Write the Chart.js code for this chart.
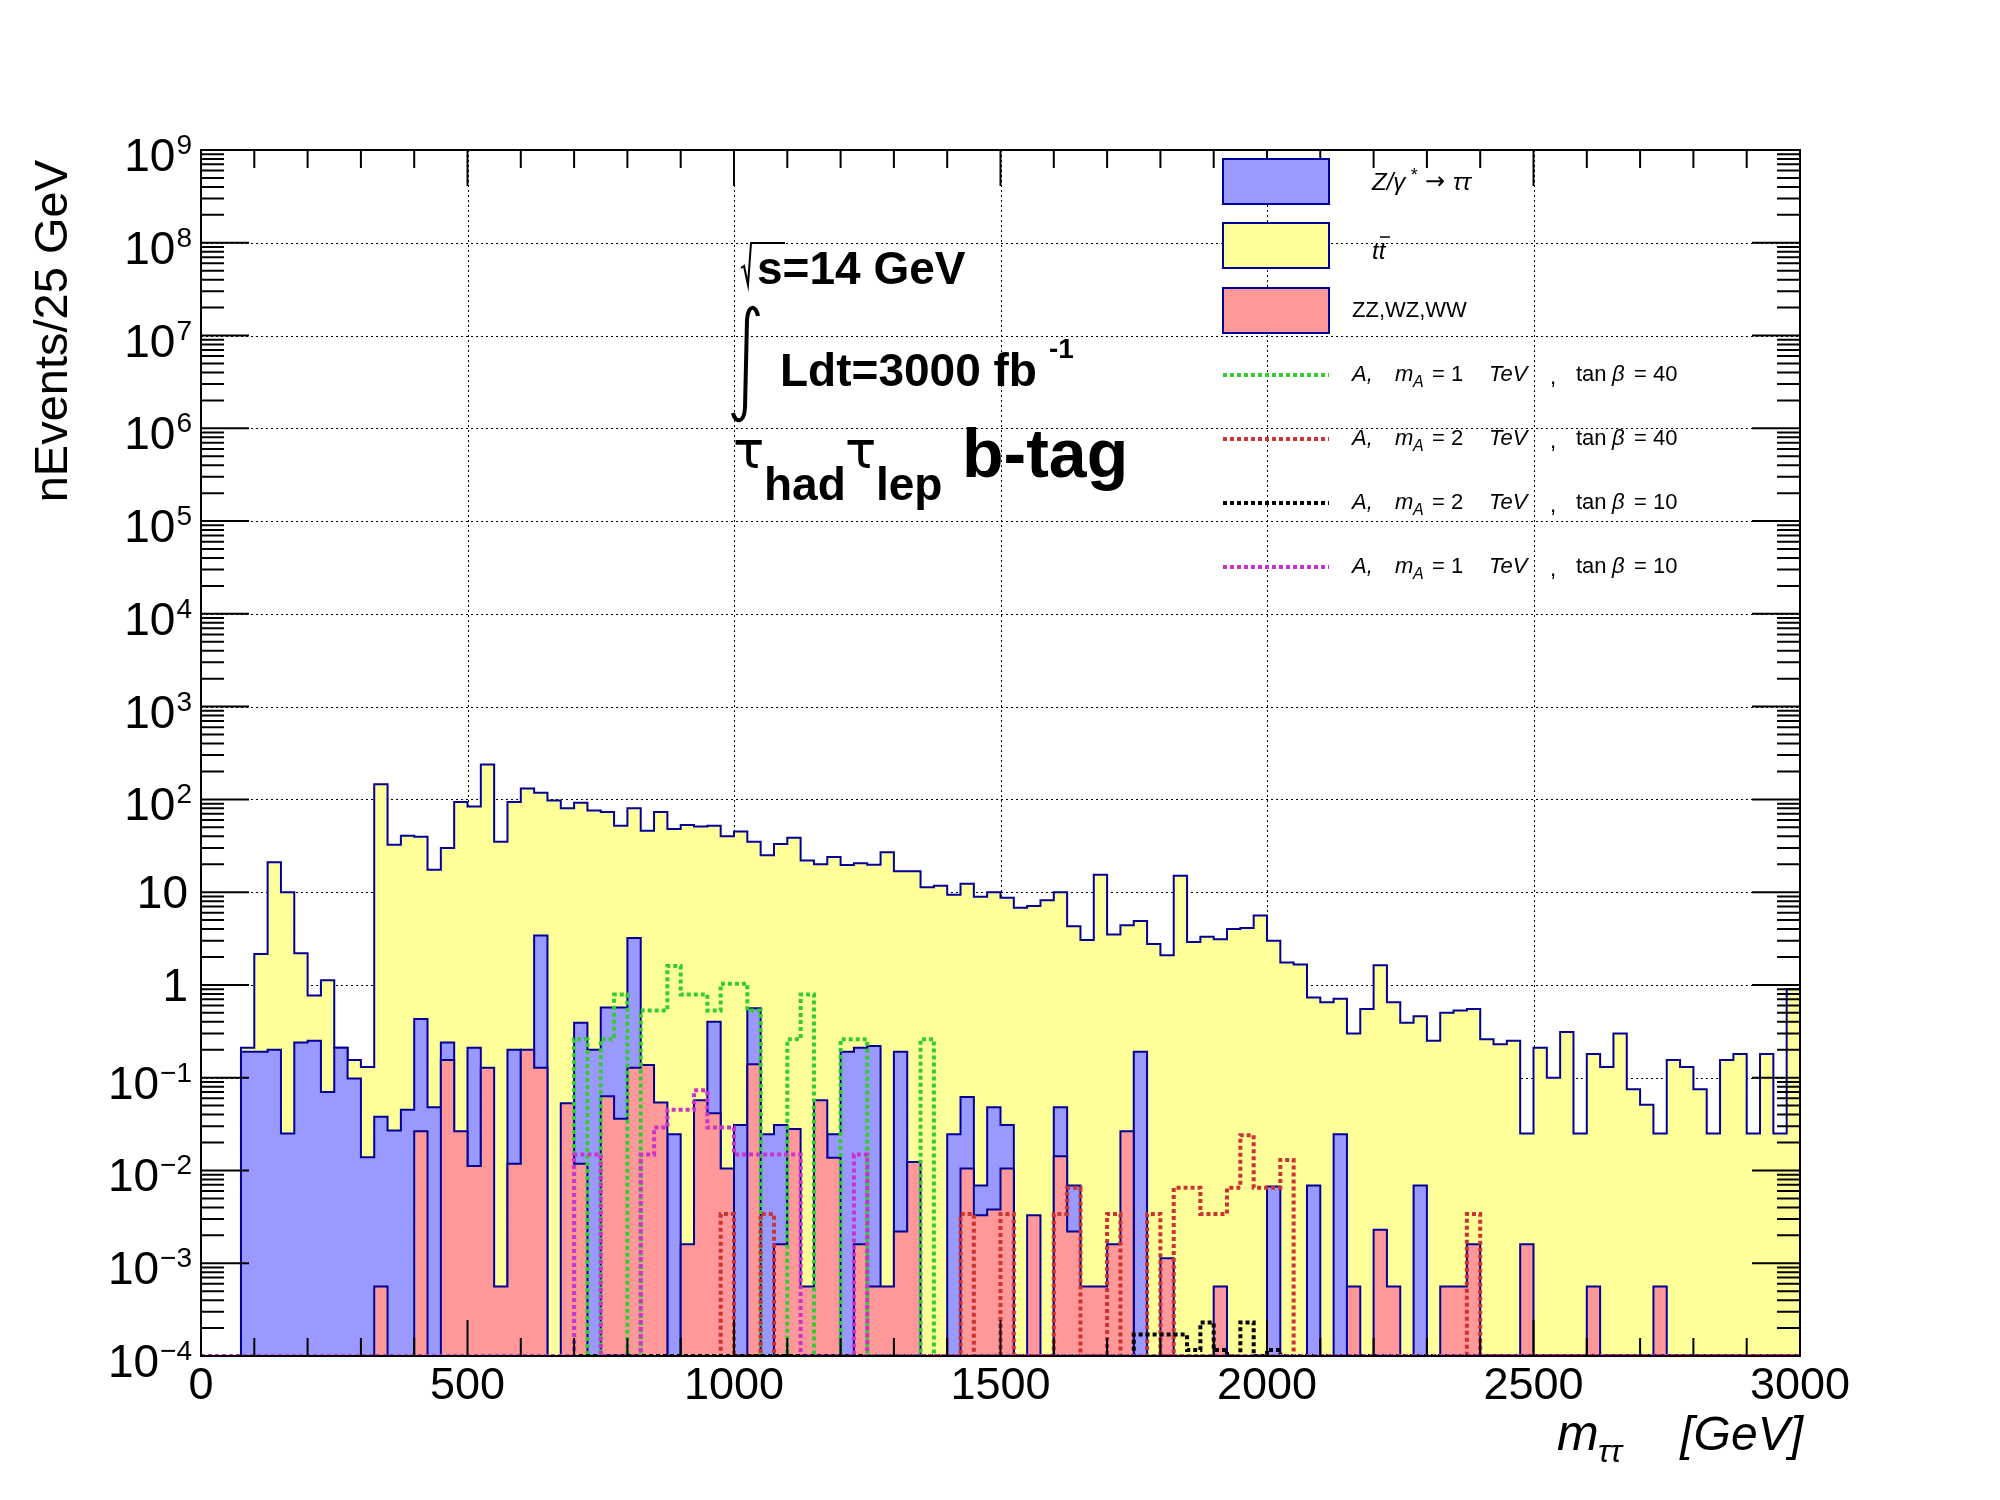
<!DOCTYPE html>
<html>
<head>
<meta charset="utf-8">
<script src="https://cdn.jsdelivr.net/npm/chart.js@4.4.0/dist/chart.umd.min.js"></script>
<style>
  body { margin: 0; background: #fff; }
  #wrap { width: 2000px; height: 1500px; position: relative; }
</style>
</head>
<body>
<div id="wrap"><canvas id="chart"></canvas></div>
<script>
// 120 bins of 25 GeV, 0 - 3000 GeV
const binWidth = 25;
const yMin = 1e-4;
const yMax = 1e9;

const ttbar = [
  0, 0, 0, 0.21, 2.15, 21, 10, 2.2, 0.77, 1.12,
  0.21, 0.155, 0.13, 146, 32.5, 40.5, 39.6, 17.4, 30, 94,
  84, 238, 35, 94, 131, 118, 97, 80, 92, 76,
  73, 52, 80, 46, 73, 48, 53, 51, 52, 40,
  45, 35, 25, 33, 38.5, 22, 20, 24, 19.6, 20.5,
  19.8, 27, 16.8, 16.8, 11.3, 11.7, 9.4, 12.3, 8.9, 10,
  8.7, 6.8, 7.1, 8.2, 10, 4.3, 3.05, 15.4, 3.5, 4.4,
  4.9, 2.76, 2.09, 15, 2.9, 3.3, 3.1, 4.0, 4.1, 5.6,
  3.0, 1.75, 1.66, 0.73, 0.65, 0.71, 0.30, 0.55, 1.63, 0.65,
  0.39, 0.46, 0.25, 0.50, 0.53, 0.55, 0.26, 0.23, 0.25, 0.025,
  0.21, 0.1, 0.31, 0.025, 0.18, 0.13, 0.30, 0.075, 0.051, 0.025,
  0.155, 0.13, 0.075, 0.025, 0.155, 0.18, 0.025, 0.18, 0.025, 0.9
];

const ztautau = [
  0, 0, 0, 0.19, 0.19, 0.20, 0.025, 0.24, 0.25, 0.070,
  0.21, 0.098, 0.0139, 0.038, 0.027, 0.045, 0.43, 0.048, 0.24, 0,
  0.21, 0, 0, 0.20, 0, 3.4, 0, 0, 0.39, 0.20,
  0.57, 0.57, 3.2, 0, 0, 0.0245, 0, 0, 0.40, 0,
  0.031, 0.56, 0.0245, 0.031, 0, 0, 0, 0.0245, 0.19, 0.21,
  0.22, 0, 0.19, 0, 0, 0, 0.0245, 0.062, 0.0069, 0.048,
  0.031, 0, 0, 0, 0.048, 0.0069, 0, 0, 0, 0,
  0.19, 0, 0, 0, 0, 0, 0, 0, 0, 0,
  0.0067, 0, 0, 0.0069, 0, 0.0245, 0, 0, 0, 0,
  0, 0.0069, 0, 0, 0, 0, 0, 0, 0, 0,
  0, 0, 0, 0, 0, 0, 0, 0, 0, 0,
  0, 0, 0, 0, 0, 0, 0, 0, 0, 0
];

const diboson = [
  0, 0, 0, 0, 0, 0, 0, 0, 0, 0,
  0, 0, 0, 0.00056, 0, 0, 0.0265, 0, 0.155, 0.0265,
  0.0112, 0.128, 0.00056, 0.0118, 0.20, 0.128, 0, 0.053, 0.0118, 0,
  0.063, 0.036, 0.128, 0.137, 0.054, 0, 0.0016, 0.057, 0.0415, 0.0105,
  0, 0.14, 0, 0.0016, 0.028, 0.00056, 0.057, 0.0137, 0, 0.0016,
  0.00056, 0.00056, 0.0022, 0.0123, 0, 0, 0, 0.0105, 0.0033, 0.0038,
  0.0105, 0, 0.0033, 0, 0.0142, 0.0022, 0.00056, 0.00056, 0.0016, 0.0265,
  0, 0, 0.00113, 0, 0, 0, 0.00056, 0, 0, 0,
  0, 0, 0, 0, 0, 0, 0.00056, 0, 0.0023, 0.00056,
  0, 0, 0, 0.00056, 0.00056, 0.0016, 0, 0, 0, 0.0016,
  0, 0, 0, 0, 0.00056, 0, 0, 0, 0, 0.00056,
  0, 0, 0, 0, 0, 0, 0, 0, 0, 0
];

// A, mA = 1 TeV, tanb = 40
const sigM1T40 = [
  0, 0, 0, 0, 0, 0, 0, 0, 0, 0,
  0, 0, 0, 0, 0, 0, 0, 0, 0, 0,
  0, 0, 0, 0, 0, 0, 0, 0, 0.26, 0,
  0.26, 0.79, 0, 0.53, 0.53, 1.6, 0.79, 0.79, 0.53, 1.03,
  1.03, 0.53, 0, 0, 0.26, 0.79, 0, 0, 0.26, 0.26,
  0, 0, 0, 0, 0.26, 0, 0, 0, 0, 0,
  0, 0, 0, 0, 0, 0, 0, 0, 0, 0,
  0, 0, 0, 0, 0, 0, 0, 0, 0, 0,
  0, 0, 0, 0, 0, 0, 0, 0, 0, 0,
  0, 0, 0, 0, 0, 0, 0, 0, 0, 0,
  0, 0, 0, 0, 0, 0, 0, 0, 0, 0,
  0, 0, 0, 0, 0, 0, 0, 0, 0, 0
];

// A, mA = 2 TeV, tanb = 40
const sigM2T40 = [
  0, 0, 0, 0, 0, 0, 0, 0, 0, 0,
  0, 0, 0, 0, 0, 0, 0, 0, 0, 0,
  0, 0, 0, 0, 0, 0, 0, 0, 0, 0,
  0, 0, 0, 0, 0, 0, 0, 0, 0, 0.0034,
  0, 0, 0.0034, 0, 0, 0, 0, 0, 0, 0,
  0, 0, 0, 0, 0, 0, 0, 0.0034, 0, 0,
  0.0034, 0, 0, 0, 0.0034, 0.0065, 0, 0, 0.0034, 0,
  0, 0.0034, 0, 0.0065, 0.0065, 0.0034, 0.0034, 0.0065, 0.024, 0.0065,
  0.0065, 0.013, 0, 0, 0, 0, 0, 0, 0, 0,
  0, 0, 0, 0, 0, 0.0034, 0, 0, 0, 0,
  0, 0, 0, 0, 0, 0, 0, 0, 0, 0,
  0, 0, 0, 0, 0, 0, 0, 0, 0, 0
];

// A, mA = 2 TeV, tanb = 10
const sigM2T10 = [
  0, 0, 0, 0, 0, 0, 0, 0, 0, 0,
  0, 0, 0, 0, 0, 0, 0, 0, 0, 0,
  0, 0, 0, 0, 0, 0, 0, 0, 0, 0,
  0, 0, 0, 0, 0, 0, 0, 0, 0, 0,
  0, 0, 0, 0, 0, 0, 0, 0, 0, 0,
  0, 0, 0, 0, 0, 0, 0, 0, 0, 0,
  0, 0, 0, 0, 0, 0, 0, 0, 0, 0,
  0.00017, 0.00017, 0.00017, 0.00017, 0.000116, 0.00023, 0.000116, 0, 0.00023, 0,
  0.000116, 0, 0, 0, 0, 0, 0, 0, 0, 0,
  0, 0, 0, 0, 0, 0, 0, 0, 0, 0,
  0, 0, 0, 0, 0, 0, 0, 0, 0, 0,
  0, 0, 0, 0, 0, 0, 0, 0, 0, 0
];

// A, mA = 1 TeV, tanb = 10
const sigM1T10 = [
  0, 0, 0, 0, 0, 0, 0, 0, 0, 0,
  0, 0, 0, 0, 0, 0, 0, 0, 0, 0,
  0, 0, 0, 0, 0, 0, 0, 0, 0.0149, 0.0149,
  0, 0, 0, 0.0149, 0.029, 0.045, 0.045, 0.073, 0.029, 0.029,
  0.0149, 0.0149, 0.0149, 0.0149, 0.0149, 0, 0, 0, 0, 0.0149,
  0, 0, 0, 0, 0, 0, 0, 0, 0, 0,
  0, 0, 0, 0, 0, 0, 0, 0, 0, 0,
  0, 0, 0, 0, 0, 0, 0, 0, 0, 0,
  0, 0, 0, 0, 0, 0, 0, 0, 0, 0,
  0, 0, 0, 0, 0, 0, 0, 0, 0, 0,
  0, 0, 0, 0, 0, 0, 0, 0, 0, 0,
  0, 0, 0, 0, 0, 0, 0, 0, 0, 0
];

const xTickLabels = [0, 500, 1000, 1500, 2000, 2500, 3000];
const yTickExps = [-4, -3, -2, -1, 0, 1, 2, 3, 4, 5, 6, 7, 8, 9];

const outline = '#000099';
const sigStyles = [
  { data: sigM1T40, color: '#33cc33', mass: '1', tanb: '40' },
  { data: sigM2T40, color: '#cc3333', mass: '2', tanb: '40' },
  { data: sigM2T10, color: '#000000', mass: '2', tanb: '10' },
  { data: sigM1T10, color: '#cc33cc', mass: '1', tanb: '10' }
];

// histogram -> step points at the low edge of each bin, plus the last edge.
// log axis drops zeros, so empty bins sit on the axis floor like ROOT does
function steps(values) {
  const pts = values.map((v, i) => ({ x: i * binWidth, y: v > 0 ? v : yMin }));
  pts.push({ x: values.length * binWidth, y: pts[pts.length - 1].y });
  return pts;
}

function filledHist(values, fillColor, order) {
  return {
    data: steps(values),
    stepped: 'before',
    fill: 'start',
    backgroundColor: fillColor,
    borderColor: outline,
    borderWidth: 2,
    pointRadius: 0,
    order: order
  };
}

const datasets = [
  filledHist(ttbar, '#ffff99', 10),
  filledHist(ztautau, '#9999ff', 9),
  filledHist(diboson, '#ff9999', 8)
];
sigStyles.forEach((s, i) => {
  datasets.push({
    data: steps(s.data),
    stepped: 'before',
    fill: false,
    borderColor: s.color,
    borderWidth: 4,
    borderDash: [4, 3],
    pointRadius: 0,
    order: 4 - i
  });
});

function txt(ctx, str, x, y, font, align) {
  ctx.font = font;
  ctx.textAlign = align || 'left';
  ctx.fillText(str, x, y);
}

// grid under the histograms, axes / labels / legend on top
const rootStyle = {
  id: 'rootStyle',
  beforeDatasetsDraw(chart) {
    const { ctx, chartArea: a, scales: { x, y } } = chart;
    ctx.save();
    ctx.strokeStyle = '#000';
    ctx.lineWidth = 1;
    ctx.setLineDash([2, 3]);
    xTickLabels.forEach(v => {
      const px = Math.round(x.getPixelForValue(v)) + 0.5;
      ctx.beginPath(); ctx.moveTo(px, a.top); ctx.lineTo(px, a.bottom); ctx.stroke();
    });
    yTickExps.forEach(e => {
      const py = Math.round(y.getPixelForValue(Math.pow(10, e))) + 0.5;
      ctx.beginPath(); ctx.moveTo(a.left, py); ctx.lineTo(a.right, py); ctx.stroke();
    });
    ctx.restore();
  },
  afterDraw(chart) {
    const { ctx, chartArea: a, scales: { x, y } } = chart;
    ctx.save();
    ctx.strokeStyle = '#000';
    ctx.fillStyle = '#000';
    ctx.lineWidth = 2;

    // x ticks, bottom and top
    for (let v = 0; v <= 3000; v += 100) {
      const px = x.getPixelForValue(v);
      const len = v % 500 === 0 ? 36 : 18;
      ctx.beginPath();
      ctx.moveTo(px, a.bottom); ctx.lineTo(px, a.bottom - len);
      ctx.moveTo(px, a.top); ctx.lineTo(px, a.top + len);
      ctx.stroke();
    }
    // y ticks, left and right
    for (let e = -4; e <= 9; e++) {
      for (let m = 1; m <= 9; m++) {
        if (e === 9 && m > 1) break;
        const py = y.getPixelForValue(m * Math.pow(10, e));
        const len = m === 1 ? 48 : 23;
        ctx.beginPath();
        ctx.moveTo(a.left, py); ctx.lineTo(a.left + len, py);
        ctx.moveTo(a.right, py); ctx.lineTo(a.right - len, py);
        ctx.stroke();
      }
    }
    ctx.strokeRect(a.left, a.top, a.right - a.left, a.bottom - a.top);

    // tick labels
    ctx.textBaseline = 'alphabetic';
    xTickLabels.forEach(v => {
      txt(ctx, String(v), x.getPixelForValue(v), 1399, '45px "Liberation Sans"', 'center');
    });
    yTickExps.forEach(e => {
      const py = y.getPixelForValue(Math.pow(10, e));
      if (e === 0 || e === 1) {
        txt(ctx, e === 0 ? '1' : '10', 188, py + 16, '46px "Liberation Sans"', 'right');
      } else {
        const sup = e < 0 ? '\u2212' + (-e) : String(e);
        ctx.font = '28px "Liberation Sans"';
        const w = ctx.measureText(sup).width;
        txt(ctx, sup, 192 - w, py + 4, '28px "Liberation Sans"', 'left');
        txt(ctx, '10', 191 - w, py + 21, '46px "Liberation Sans"', 'right');
      }
    });

    // axis titles
    ctx.save();
    ctx.translate(67, 160);
    ctx.rotate(-Math.PI / 2);
    txt(ctx, 'nEvents/25 GeV', 0, 0, '47px "Liberation Sans"', 'right');
    ctx.restore();
    txt(ctx, 'm', 1557, 1450, 'italic 50px "Liberation Sans"');
    txt(ctx, '\u03c4\u03c4', 1598, 1462, 'italic 32px "Liberation Sans"');
    txt(ctx, '[GeV]', 1803, 1450, 'italic 48px "Liberation Sans"', 'right');

    // sqrt(s) label
    ctx.lineWidth = 2;
    ctx.beginPath();
    ctx.moveTo(741, 268); ctx.lineTo(744, 266); ctx.lineTo(748, 285);
    ctx.lineTo(751, 243); ctx.lineTo(785, 243);
    ctx.stroke();
    txt(ctx, 's=14 GeV', 757, 284, 'bold 46px "Liberation Sans"');

    // integral sign + luminosity
    ctx.lineWidth = 4;
    ctx.beginPath();
    ctx.moveTo(758, 316);
    ctx.bezierCurveTo(756, 305, 748, 304, 747, 320);
    ctx.lineTo(745, 408);
    ctx.bezierCurveTo(744, 424, 735, 423, 733, 413);
    ctx.stroke();
    txt(ctx, 'Ldt=3000 fb', 780, 386, 'bold 46px "Liberation Sans"');
    txt(ctx, '-1', 1049, 358, 'bold 28px "Liberation Sans"');

    // channel label
    txt(ctx, '\u03c4', 733, 468, '52px "DejaVu Sans"');
    txt(ctx, 'had', 764, 500, 'bold 46px "Liberation Sans"');
    txt(ctx, '\u03c4', 845, 468, '52px "DejaVu Sans"');
    txt(ctx, 'lep', 876, 500, 'bold 46px "Liberation Sans"');
    txt(ctx, 'b-tag', 962, 477, 'bold 68px "Liberation Sans"');

    // legend
    const boxes = [
      { y: 159, fill: '#9999ff' },
      { y: 223, fill: '#ffff99' },
      { y: 288, fill: '#ff9999' }
    ];
    ctx.lineWidth = 2;
    boxes.forEach(b => {
      ctx.fillStyle = b.fill;
      ctx.fillRect(1223, b.y, 106, 45);
      ctx.strokeStyle = outline;
      ctx.strokeRect(1223, b.y, 106, 45);
    });
    ctx.fillStyle = '#000';
    ctx.textBaseline = 'middle';
    txt(ctx, 'Z/\u03b3', 1372, 183, 'italic 24px "Liberation Sans"');
    txt(ctx, '*', 1410, 176, 'italic 18px "Liberation Sans"');
    txt(ctx, '\u2192', 1425, 183, '24px "DejaVu Sans"');
    txt(ctx, '\u03c4\u03c4', 1453, 183, 'italic 24px "Liberation Sans"');
    txt(ctx, 'tt', 1372, 252, 'italic 24px "Liberation Sans"');
    ctx.strokeStyle = '#000';
    ctx.lineWidth = 1.5;
    ctx.beginPath(); ctx.moveTo(1380, 237); ctx.lineTo(1390, 237); ctx.stroke();
    txt(ctx, 'ZZ,WZ,WW', 1352, 311, '22px "Liberation Sans"');

    const lineY = [375, 439, 503, 567];
    sigStyles.forEach((s, i) => {
      const ly = lineY[i];
      ctx.save();
      ctx.strokeStyle = s.color;
      ctx.lineWidth = 4;
      ctx.setLineDash([4, 3]);
      ctx.beginPath(); ctx.moveTo(1223, ly); ctx.lineTo(1329, ly); ctx.stroke();
      ctx.restore();
      txt(ctx, 'A,', 1352, ly, 'italic 22px "Liberation Sans"');
      txt(ctx, 'm', 1395, ly, 'italic 22px "Liberation Sans"');
      txt(ctx, 'A', 1413, ly + 8, 'italic 16px "Liberation Sans"');
      txt(ctx, '= ' + s.mass, 1432, ly, '22px "Liberation Sans"');
      txt(ctx, 'TeV', 1489, ly, 'italic 22px "Liberation Sans"');
      txt(ctx, ',', 1550, ly + 3, '22px "Liberation Sans"');
      txt(ctx, 'tan', 1576, ly, '22px "Liberation Sans"');
      txt(ctx, '\u03b2', 1612, ly, 'italic 22px "Liberation Sans"');
      txt(ctx, '= ' + s.tanb, 1634, ly, '22px "Liberation Sans"');
    });
    ctx.restore();
  }
};

const chart = document.querySelector('#chart').getContext('2d');

new Chart(chart, {
  type: 'line',
  data: { datasets: datasets },
  options: {
    responsive: true,
    maintainAspectRatio: false,
    devicePixelRatio: 1,
    animation: false,
    events: [],
    layout: { padding: { top: 150, right: 200, left: 0, bottom: 0 } },
    plugins: {
      legend: { display: false },
      tooltip: { enabled: false }
    },
    scales: {
      x: {
        type: 'linear', min: 0, max: 3000,
        grid: { display: false }, border: { display: false },
        ticks: { display: false },
        afterFit: s => { s.height = 144; }
      },
      y: {
        type: 'logarithmic', min: yMin, max: yMax,
        grid: { display: false }, border: { display: false },
        ticks: { display: false },
        afterFit: s => { s.width = 201; }
      }
    }
  },
  plugins: [rootStyle]
});
</script>
</body>
</html>
